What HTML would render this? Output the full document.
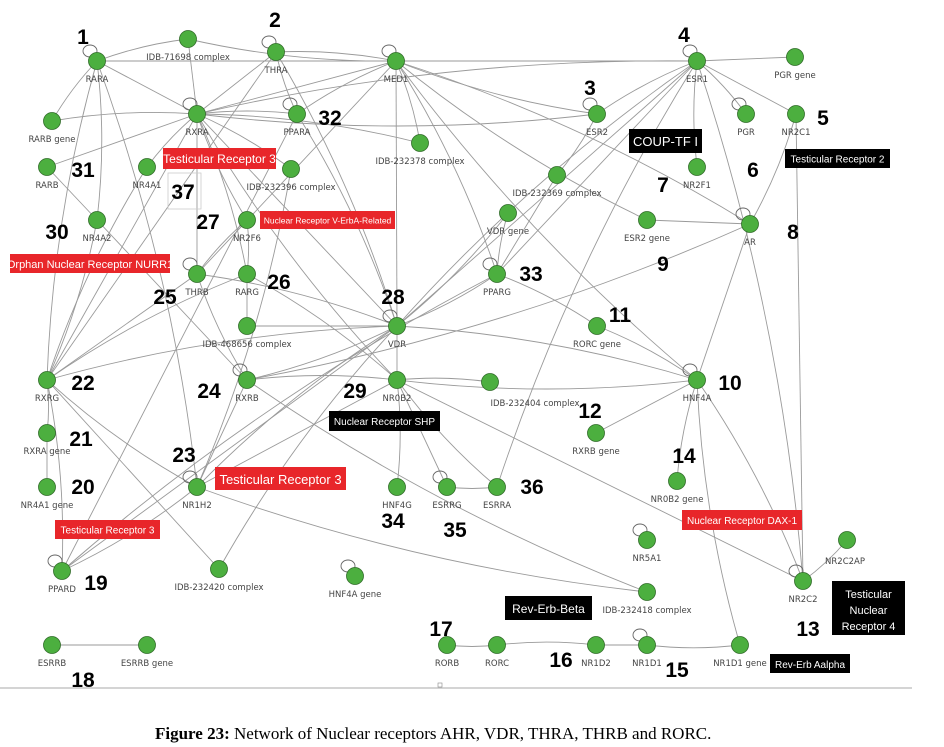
<!DOCTYPE html>
<html><head><meta charset="utf-8"><style>
body{margin:0;background:#fff;width:944px;height:747px;overflow:hidden}
svg{display:block}
.l{font-family:"DejaVu Sans","Liberation Sans",sans-serif;font-size:8.5px;fill:#444;text-anchor:middle}
.n{font-family:"Liberation Sans",sans-serif;font-size:21px;font-weight:bold;fill:#000;text-anchor:middle}
.b{font-family:"Liberation Sans",sans-serif;fill:#fff}
</style></head><body>
<svg width="944" height="747" viewBox="0 0 944 747" xmlns="http://www.w3.org/2000/svg">
<g stroke="#9a9a9a" stroke-width="0.9" fill="none" id="edges"></g>
<g id="loops" stroke="#666" stroke-width="0.9" fill="none"></g>
<g id="nodes"></g>
<g id="labels"></g>

<rect x="168" y="173" width="33" height="36" fill="none" stroke="#ccc" stroke-width="0.8"/>
<rect x="163" y="148" width="113" height="21" fill="#e8262a"/><text class="b" x="219.5" y="163" font-size="12" text-anchor="middle">Testicular Receptor 3</text>
<rect x="260" y="211" width="135" height="18" fill="#e8262a"/><text class="b" x="327.5" y="223.5" font-size="8.5" text-anchor="middle">Nuclear Receptor V-ErbA-Related</text>
<rect x="10" y="254" width="160" height="19" fill="#e8262a"/><text class="b" x="90" y="268" font-size="11" text-anchor="middle">Orphan Nuclear Receptor NURR1</text>
<rect x="629" y="129" width="73" height="24" fill="#000"/><text class="b" x="665.5" y="146" font-size="13" text-anchor="middle">COUP-TF I</text>
<rect x="785" y="149" width="105" height="19" fill="#000"/><text class="b" x="837.5" y="162.5" font-size="10" text-anchor="middle">Testicular Receptor 2</text>
<rect x="329" y="411" width="111" height="20" fill="#000"/><text class="b" x="384.5" y="425" font-size="10" text-anchor="middle">Nuclear Receptor SHP</text>
<rect x="215" y="467" width="131" height="23" fill="#e8262a"/><text class="b" x="280.5" y="484" font-size="13" text-anchor="middle">Testicular Receptor 3</text>
<rect x="55" y="520" width="105" height="19" fill="#e8262a"/><text class="b" x="107.5" y="533.5" font-size="10" text-anchor="middle">Testicular Receptor 3</text>
<rect x="682" y="510" width="120" height="20" fill="#e8262a"/><text class="b" x="742" y="524" font-size="10" text-anchor="middle">Nuclear Receptor DAX-1</text>
<rect x="832" y="581" width="73" height="54" fill="#000"/>
<text class="b" x="868.5" y="598" font-size="11" text-anchor="middle">Testicular</text>
<text class="b" x="868.5" y="614" font-size="11" text-anchor="middle">Nuclear</text>
<text class="b" x="868.5" y="630" font-size="11" text-anchor="middle">Receptor 4</text>
<rect x="505" y="596" width="87" height="24" fill="#000"/><text class="b" x="548.5" y="613" font-size="12" text-anchor="middle">Rev-Erb-Beta</text>
<rect x="770" y="654" width="80" height="19" fill="#000"/><text class="b" x="810" y="668" font-size="10" text-anchor="middle">Rev-Erb Aalpha</text>

<line x1="0" y1="688" x2="912" y2="688" stroke="#aaa" stroke-width="1"/>
<rect x="438" y="683" width="4" height="4" fill="none" stroke="#888" stroke-width="0.6"/>
<text x="155" y="739" font-family="Liberation Serif,serif" font-size="17" fill="#000"><tspan font-weight="bold">Figure 23:</tspan> Network of Nuclear receptors AHR, VDR, THRA, THRB and RORC.</text>
</svg>
<script>
var N={RARA:[97,61],I71698:[188,39],THRA:[276,52],MED1:[396,61],RARBg:[52,121],RXRA:[197,114],PPARA:[297,114],I232378:[420,143],RARB:[47,167],NR4A1:[147,167],I232396:[291,169],NR4A2:[97,220],NR2F6:[247,220],THRB:[197,274],RARG:[247,274],I468656:[247,326],VDR:[397,326],
ESR1:[697,61],PGRg:[795,57],ESR2:[597,114],PGR:[746,114],NR2C1:[796,114],NR2F1:[697,167],I232369:[557,175],VDRg:[508,213],ESR2g:[647,220],AR:[750,224],PPARG:[497,274],RORCg:[597,326],
RXRG:[47,380],RXRB:[247,380],NR0B2:[397,380],RXRAg:[47,433],NR4A1g:[47,487],NR1H2:[197,487],HNF4G:[397,487],ESRRG:[447,487],PPARD:[62,571],I232420:[219,569],HNF4Ag:[355,576],ESRRB:[52,645],ESRRBg:[147,645],RORB:[447,645],
I232404:[490,382],HNF4A:[697,380],RXRBg:[596,433],ESRRA:[497,487],NR0B2g:[677,481],NR5A1:[647,540],NR2C2AP:[847,540],NR2C2:[803,581],I232418:[647,592],RORC:[497,645],NR1D2:[596,645],NR1D1:[647,645],NR1D1g:[740,645]};
var L={RARA:"RARA",I71698:"IDB-71698 complex",THRA:"THRA",MED1:"MED1",RARBg:"RARB gene",RXRA:"RXRA",PPARA:"PPARA",I232378:"IDB-232378 complex",RARB:"RARB",NR4A1:"NR4A1",I232396:"IDB-232396 complex",NR4A2:"NR4A2",NR2F6:"NR2F6",THRB:"THRB",RARG:"RARG",I468656:"IDB-468656 complex",VDR:"VDR",ESR1:"ESR1",PGRg:"PGR gene",ESR2:"ESR2",PGR:"PGR",NR2C1:"NR2C1",NR2F1:"NR2F1",I232369:"IDB-232369 complex",VDRg:"VDR gene",ESR2g:"ESR2 gene",AR:"AR",PPARG:"PPARG",RORCg:"RORC gene",RXRG:"RXRG",RXRB:"RXRB",NR0B2:"NR0B2",RXRAg:"RXRA gene",NR4A1g:"NR4A1 gene",NR1H2:"NR1H2",HNF4G:"HNF4G",ESRRG:"ESRRG",PPARD:"PPARD",I232420:"IDB-232420 complex",HNF4Ag:"HNF4A gene",ESRRB:"ESRRB",ESRRBg:"ESRRB gene",RORB:"RORB",I232404:"IDB-232404 complex",HNF4A:"HNF4A",RXRBg:"RXRB gene",ESRRA:"ESRRA",NR0B2g:"NR0B2 gene",NR5A1:"NR5A1",NR2C2AP:"NR2C2AP",NR2C2:"NR2C2",I232418:"IDB-232418 complex",RORC:"RORC",NR1D2:"NR1D2",NR1D1:"NR1D1",NR1D1g:"NR1D1 gene"};
var off={I232404:[45,0]};
var E="RARA-I71698 RARA-RXRA RARA-RARBg RARA-NR4A2 RARA-MED1 RARA-RXRG RARA-NR1H2 I71698-RXRA I71698-MED1 THRA-MED1 THRA-RXRA THRA-PPARA THRA-VDR MED1-RXRA MED1-PPARA MED1-I232378 MED1-ESR1 MED1-ESR2 MED1-AR MED1-VDR MED1-HNF4A MED1-PPARG MED1-THRB MED1-ESR2g RXRA-PPARA RXRA-RARB RXRA-NR4A1 RXRA-I232378 RXRA-THRB RXRA-NR2F6 RXRA-RARG RXRA-VDR RXRA-NR0B2 RXRA-ESR1 RXRA-RXRG RXRA-ESR2 RARBg-RXRA RARB-NR4A2 NR4A1-RXRG NR4A2-RXRG NR4A2-RXRB NR2F6-THRB NR2F6-RARG THRB-RXRG THRB-RXRB THRB-VDR RARG-I468656 RARG-RXRG RARG-NR0B2 I468656-VDR VDR-RXRG VDR-RXRB VDR-NR0B2 VDR-PPARG VDR-HNF4A VDR-ESR1 VDR-NR1H2 RXRB-NR0B2 RXRB-NR1H2 RXRB-I232418 RXRG-RXRAg RXRAg-NR4A1g RXRG-NR1H2 RXRG-PPARD PPARD-VDR PPARD-NR1H2 PPARD-PPARG NR1H2-NR0B2 NR1H2-I232418 I232420-VDR I232420-RXRG NR0B2-HNF4A NR0B2-HNF4G NR0B2-ESRRG NR0B2-ESRRA NR0B2-I232404 NR0B2-NR2C2 ESRRG-ESRRA ESRRA-ESR1 HNF4A-RXRBg HNF4A-NR0B2g HNF4A-NR2C2 HNF4A-AR HNF4A-RORCg NR1D1g-HNF4A ESR1-PGRg ESR1-ESR2 ESR1-PGR ESR1-NR2C1 ESR1-NR2F1 ESR1-NR2C2 ESR1-PPARG ESR1-VDR ESR2-I232369 I232369-PPARG VDRg-PPARG VDRg-VDR ESR2g-AR AR-NR2C1 AR-RXRB NR2C1-NR2C2 NR2C2-NR2C2AP PPARG-RORCg ESRRB-ESRRBg RORB-RORC RORC-NR1D2 NR1D2-NR1D1 NR1D1-NR1D1g PPARA-VDR PPARA-PPARD I232396-RXRA I232396-NR1H2 THRA-RXRG".split(" ");
var S="http://www.w3.org/2000/svg";
function el(t,a,p){var e=document.createElementNS(S,t);for(var k in a)e.setAttribute(k,a[k]);document.getElementById(p).appendChild(e);return e;}
E.forEach(function(s,i){var p=s.split("-"),a=N[p[0]],b=N[p[1]];var mx=(a[0]+b[0])/2,my=(a[1]+b[1])/2,dx=b[0]-a[0],dy=b[1]-a[1];var c=(i%3-1)*0.06;
el("path",{d:"M"+a[0]+","+a[1]+" Q"+(mx-dy*c)+","+(my+dx*c)+" "+b[0]+","+b[1]},"edges");});
"RARA THRA MED1 RXRA PPARA ESR1 ESR2 PGR AR THRB VDR PPARG RXRB NR1H2 PPARD ESRRG HNF4A NR5A1 NR2C2 NR1D1 HNF4Ag".split(" ").forEach(function(k){var p=N[k];el("ellipse",{cx:p[0]-7,cy:p[1]-10,rx:7,ry:6},"loops");});
for(var k in N){var p=N[k];el("circle",{cx:p[0],cy:p[1],r:8.5,fill:"#4caf3f",stroke:"#2f6b27","stroke-width":0.8},"nodes");
var o=off[k]||[0,0];var x=p[0]+o[0],y=p[1]+21+o[1];if(k=="I232404"){y=p[1]+24;}
if(k=="NR2C2AP"){x=p[0]-2;y=p[1]+24;}
var t=el("text",{x:x,y:y,"class":"l"},"labels");t.textContent=L[k];}
var nums=[[1,83,44],[2,275,27],[3,590,95],[4,684,42],[5,823,125],[6,753,177],[7,663,192],[8,793,239],[9,663,271],[10,730,390],[11,620,322],[12,590,418],[13,808,636],[14,684,463],[15,677,677],[16,561,667],[17,441,636],[18,83,687],[19,96,590],[20,83,494],[21,81,446],[22,83,390],[23,184,462],[24,209,398],[25,165,304],[26,279,289],[27,208,229],[28,393,304],[29,355,398],[30,57,239],[31,83,177],[32,330,125],[33,531,281],[34,393,528],[35,455,537],[36,532,494],[37,183,199]];
nums.forEach(function(n){var t=el("text",{x:n[1],y:n[2],"class":"n"},"labels");t.textContent=n[0];});
</script>
</body></html>
